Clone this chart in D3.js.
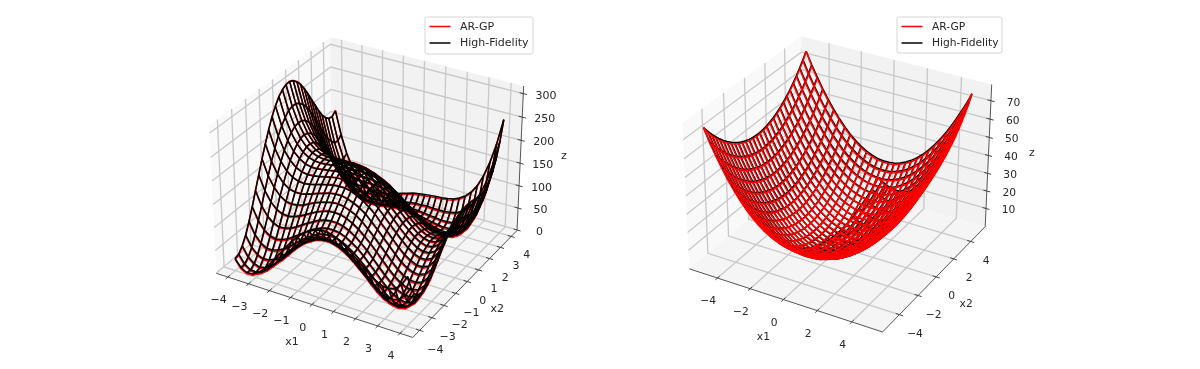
<!DOCTYPE html>
<html>

<head>
  <meta charset="utf-8">
  <title>AR-GP vs High-Fidelity</title>
  <script src="https://d3js.org/d3.v7.min.js"></script>
  <style>
    body { margin: 0; background: #fff; }
    svg { display: block; filter: blur(0.5px); }
    text { font-family: "DejaVu Sans", sans-serif; fill: #262626; }
  </style>
</head>

<body>
  <script>
    // mesh coordinates
    var leftGrid = [-4, -3.7241, -3.4483, -3.1724, -2.8966, -2.6207, -2.3448, -2.069, -1.7931, -1.5172, -1.2414, -0.9655, -0.6897, -0.4138, -0.1379, 0.1379, 0.4138, 0.6897, 0.9655, 1.2414, 1.5172, 1.7931, 2.069, 2.3448, 2.6207, 2.8966, 3.1724, 3.4483, 3.7241, 4];
    var rightGrid = [-5, -4.655, -4.31, -3.966, -3.621, -3.276, -2.931, -2.586, -2.241, -1.897, -1.552, -1.207, -0.862, -0.517, -0.172, 0.172, 0.517, 0.862, 1.207, 1.552, 1.897, 2.241, 2.586, 2.931, 3.276, 3.621, 3.966, 4.31, 4.655, 5];

    // ticks
    var leftXTicks = [-4, -3, -2, -1, 0, 1, 2, 3, 4];
    var leftZTicks = [0, 50, 100, 150, 200, 250, 300];
    var rightXTicks = [-4, -2, 0, 2, 4];
    var rightZTicks = [10, 20, 30, 40, 50, 60, 70];

    var legendLabels = ["AR-GP", "High-Fidelity"];

    // left surface, rows are x1, columns are x2
    var leftHighFidelity = [
      [26,29,41,58,81,107,135,163,191,217,241,263,280,294,303,308,309,305,297,286,272,255,237,219,201,185,173,165,163,170],
      [10,11,20,35,56,80,106,132,158,183,205,225,241,253,262,265,265,260,252,240,225,208,189,170,152,135,123,114,113,120],
      [3,2,9,22,41,63,87,111,136,159,180,198,213,224,231,233,232,226,217,204,189,171,152,132,114,97,84,76,75,81],
      [4,1,5,17,33,54,76,99,122,143,163,180,193,203,209,211,208,202,192,178,162,144,124,105,86,69,56,48,46,53],
      [11,5,8,18,33,51,71,93,114,134,153,168,181,189,194,195,192,184,174,160,143,124,104,85,66,49,36,27,26,33],
      [23,15,16,24,37,53,72,92,112,131,148,162,173,181,185,185,181,173,162,147,130,111,91,71,52,35,22,14,13,21],
      [37,28,27,33,44,59,76,95,114,131,147,160,170,177,180,179,175,166,154,139,122,103,82,62,43,27,14,6,5,13],
      [54,42,39,44,53,67,83,100,117,134,149,161,170,176,178,177,172,163,150,135,117,98,78,57,38,22,9,2,2,10],
      [71,58,53,56,64,76,91,107,123,138,152,163,172,177,179,176,171,161,149,133,115,96,75,55,36,20,8,1,1,10],
      [88,73,67,68,75,85,99,114,129,143,156,166,174,179,180,177,171,161,148,132,114,95,75,55,36,20,8,2,3,13],
      [104,87,80,79,85,94,106,120,134,147,159,169,176,180,181,178,171,161,148,132,114,95,75,55,37,21,10,4,6,16],
      [118,100,91,89,93,101,113,125,138,151,162,171,178,181,181,178,171,161,148,132,114,95,75,56,38,23,12,7,9,21],
      [129,110,99,97,100,107,117,129,141,153,163,172,178,181,181,177,170,160,147,131,113,94,75,56,38,24,14,9,13,25],
      [138,117,106,102,104,110,119,130,142,153,163,171,176,179,178,175,168,157,144,129,111,93,74,55,38,25,15,12,16,29],
      [144,122,109,104,105,110,119,129,140,150,160,167,173,175,174,170,163,153,140,125,108,90,71,53,37,24,16,13,18,33],
      [147,124,110,104,104,108,116,125,135,145,155,162,167,169,168,164,157,147,135,120,103,85,67,50,35,23,15,14,20,35],
      [147,122,107,100,99,103,110,119,129,138,147,154,159,161,160,156,150,140,128,113,97,80,62,46,32,20,14,13,20,37],
      [143,118,102,94,92,95,102,110,120,129,137,144,149,151,150,147,140,131,119,105,89,73,56,41,27,17,11,12,21,39],
      [137,111,94,85,83,86,91,99,108,117,126,132,137,139,139,135,129,120,109,95,81,65,49,34,22,13,8,10,20,40],
      [128,101,84,75,72,74,79,87,95,104,112,119,124,126,126,123,117,109,98,85,71,56,41,28,16,8,5,9,20,41],
      [118,90,72,62,59,60,65,73,81,90,98,105,110,113,113,110,105,97,87,75,62,48,34,21,11,4,3,7,20,43],
      [107,78,60,49,45,47,51,59,67,76,84,91,96,99,100,98,93,86,76,65,53,40,27,16,7,1,1,7,22,46],
      [95,66,47,36,32,33,37,45,53,62,70,78,83,87,88,86,82,76,67,57,45,34,22,12,4,0,2,9,25,52],
      [84,55,35,24,19,20,25,32,40,49,58,66,72,76,77,76,73,68,60,51,40,30,19,11,4,2,5,14,32,60],
      [75,45,25,14,9,10,14,22,30,40,49,57,63,68,70,70,67,63,56,48,39,29,21,13,9,8,12,23,43,73],
      [69,39,19,7,2,3,8,15,24,34,43,52,59,64,67,68,66,63,57,50,42,34,27,21,18,18,25,38,59,91],
      [68,37,17,5,0,1,6,14,23,33,43,52,60,66,70,71,71,68,64,58,52,45,39,35,33,36,44,59,83,117],
      [72,41,21,9,5,6,11,19,28,39,49,59,68,75,79,82,83,81,78,74,69,63,59,57,57,61,71,88,114,150],
      [84,53,33,21,17,18,24,32,42,53,65,75,84,92,98,102,103,103,102,99,95,92,89,88,90,97,109,128,156,194],
      [106,75,55,43,39,41,47,55,66,78,90,101,112,120,127,132,135,136,136,135,133,131,130,131,135,144,158,179,209,250]
    ];

    var leftArGp = [
      [24,26,38,55,79,105,136,164,192,218,242,264,281,295,304,309,310,306,298,287,271,253,234,216,199,183,172,165,164,172],
      [7,8,17,32,53,78,104,133,159,184,206,226,242,254,263,266,266,261,253,241,226,209,190,171,153,136,124,112,111,118],
      [0,-1,6,19,38,61,85,112,137,160,181,199,214,225,232,234,233,227,218,205,190,172,153,133,112,95,82,74,73,79],
      [1,-2,2,14,30,51,74,97,123,144,164,181,194,204,210,212,209,203,193,179,163,145,125,103,84,67,53,45,43,50],
      [8,2,5,15,30,48,69,91,112,135,154,169,182,190,195,196,193,185,175,161,144,125,102,83,64,46,33,24,23,30],
      [20,12,13,21,34,50,70,90,110,132,149,163,174,182,186,186,182,174,163,148,131,109,89,69,49,32,19,11,10,18],
      [34,25,24,30,41,56,74,93,112,132,148,161,171,178,181,180,176,167,155,140,123,101,80,60,40,24,11,3,2,10],
      [51,39,36,41,50,65,81,98,115,135,150,162,171,177,179,178,173,164,151,136,115,96,76,54,35,19,6,-1,-1,7],
      [69,55,50,53,62,74,89,105,124,139,153,164,173,178,180,177,172,162,150,134,113,94,73,52,33,17,5,-2,-2,7],
      [86,71,65,66,73,83,97,112,130,144,157,167,175,180,181,178,172,162,149,133,112,93,73,52,33,17,5,-1,0,10],
      [102,85,78,77,83,92,104,121,135,148,160,170,177,181,182,179,172,162,149,133,112,93,73,52,34,18,7,1,3,13],
      [116,98,89,87,91,99,111,126,139,152,163,172,179,182,182,179,172,162,149,133,112,93,73,53,35,20,9,4,6,18],
      [130,108,97,95,98,105,115,130,142,154,164,173,179,182,182,178,171,161,148,132,111,92,73,53,35,21,11,6,10,22],
      [139,115,104,100,102,108,117,131,143,154,164,172,177,180,179,176,169,158,145,130,109,91,72,52,35,22,12,9,13,26],
      [145,123,107,102,103,108,117,130,141,151,161,168,174,176,175,171,164,154,141,126,106,88,69,50,34,21,13,10,15,30],
      [148,125,108,102,102,106,114,126,136,146,156,163,168,170,169,165,158,148,136,118,101,83,65,47,32,20,12,11,17,32],
      [148,123,105,98,97,101,108,117,130,139,148,155,160,162,161,157,151,141,129,111,95,78,60,43,29,17,11,10,17,34],
      [144,116,100,92,90,93,100,108,118,130,138,145,150,152,151,148,141,132,117,103,87,71,53,38,24,14,8,9,18,36],
      [138,109,92,83,81,84,89,97,106,115,127,133,138,140,140,136,130,118,107,93,79,63,46,31,19,10,5,7,17,37],
      [129,99,82,73,70,72,77,85,93,102,110,117,122,124,124,121,115,107,96,83,69,53,38,25,13,5,2,6,17,38],
      [116,88,70,60,56,58,63,71,79,88,96,103,108,111,111,108,103,95,85,73,60,45,31,18,8,1,0,4,17,40],
      [105,76,58,46,42,44,48,56,65,74,82,89,94,97,98,96,91,84,74,63,50,37,24,13,4,-2,-2,4,19,43],
      [93,64,44,33,29,30,34,42,50,60,68,76,81,85,86,84,80,74,65,54,42,31,19,9,1,-3,-1,6,22,49],
      [82,52,32,21,16,17,22,29,37,46,55,64,70,74,75,74,71,66,58,48,37,27,16,8,1,-1,2,11,29,58],
      [73,42,22,11,6,7,11,19,27,37,46,54,61,66,68,68,65,61,53,45,36,26,18,10,6,5,9,20,40,71],
      [67,36,16,4,-1,0,5,12,21,31,40,49,56,62,65,66,64,61,54,47,39,31,24,18,15,15,22,35,57,89],
      [66,34,14,2,-3,-2,3,11,20,30,40,49,58,64,68,69,69,66,62,55,49,42,36,32,30,33,41,56,81,115],
      [70,38,18,6,2,3,8,16,25,36,46,56,66,73,77,80,81,79,76,72,67,61,56,54,54,59,69,86,112,151],
      [82,50,30,18,14,15,21,29,39,50,63,73,82,90,96,100,101,101,100,97,93,90,87,86,88,95,107,129,157,195],
      [104,73,52,40,36,38,44,52,64,76,88,99,110,121,128,133,136,137,137,136,134,132,131,132,136,145,159,180,210,248]
    ];

    // right surface
    var rightHighFidelity = [
      [75,71.7,68.6,65.7,63.1,60.7,58.6,56.7,55,53.6,52.4,51.5,50.7,50.3,50,50,50.3,50.7,51.5,52.4,53.6,55,56.7,58.6,60.7,63.1,65.7,68.6,71.7,75],
      [68.3,65,61.9,59,56.4,54,51.9,50,48.3,46.9,45.7,44.8,44,43.6,43.3,43.3,43.6,44,44.8,45.7,46.9,48.3,50,51.9,54,56.4,59,61.9,65,68.3],
      [62.2,58.9,55.8,52.9,50.3,47.9,45.8,43.9,42.2,40.8,39.6,38.7,37.9,37.5,37.2,37.2,37.5,37.9,38.7,39.6,40.8,42.2,43.9,45.8,47.9,50.3,52.9,55.8,58.9,62.2],
      [56.5,53.2,50.1,47.2,44.6,42.2,40.1,38.2,36.5,35.1,33.9,33,32.2,31.8,31.5,31.5,31.8,32.2,33,33.9,35.1,36.5,38.2,40.1,42.2,44.6,47.2,50.1,53.2,56.5],
      [51.2,47.9,44.8,41.9,39.3,36.9,34.8,32.9,31.2,29.8,28.6,27.7,26.9,26.5,26.2,26.2,26.5,26.9,27.7,28.6,29.8,31.2,32.9,34.8,36.9,39.3,41.9,44.8,47.9,51.2],
      [46.5,43.2,40.1,37.2,34.6,32.2,30.1,28.2,26.5,25.1,23.9,23,22.2,21.8,21.5,21.5,21.8,22.2,23,23.9,25.1,26.5,28.2,30.1,32.2,34.6,37.2,40.1,43.2,46.5],
      [42.2,38.9,35.8,32.9,30.3,27.9,25.8,23.9,22.2,20.8,19.6,18.7,17.9,17.5,17.2,17.2,17.5,17.9,18.7,19.6,20.8,22.2,23.9,25.8,27.9,30.3,32.9,35.8,38.9,42.2],
      [38.4,35.1,32,29.1,26.5,24.1,22,20.1,18.4,17,15.8,14.9,14.1,13.7,13.4,13.4,13.7,14.1,14.9,15.8,17,18.4,20.1,22,24.1,26.5,29.1,32,35.1,38.4],
      [35,31.7,28.6,25.7,23.1,20.7,18.6,16.7,15,13.6,12.4,11.5,10.7,10.3,10,10,10.3,10.7,11.5,12.4,13.6,15,16.7,18.6,20.7,23.1,25.7,28.6,31.7,35],
      [32.2,28.9,25.8,22.9,20.3,17.9,15.8,13.9,12.2,10.8,9.6,8.7,7.9,7.5,7.2,7.2,7.5,7.9,8.7,9.6,10.8,12.2,13.9,15.8,17.9,20.3,22.9,25.8,28.9,32.2],
      [29.8,26.5,23.4,20.5,17.9,15.5,13.4,11.5,9.8,8.4,7.2,6.3,5.5,5.1,4.8,4.8,5.1,5.5,6.3,7.2,8.4,9.8,11.5,13.4,15.5,17.9,20.5,23.4,26.5,29.8],
      [27.9,24.6,21.5,18.6,16,13.6,11.5,9.6,7.9,6.5,5.3,4.4,3.6,3.2,2.9,2.9,3.2,3.6,4.4,5.3,6.5,7.9,9.6,11.5,13.6,16,18.6,21.5,24.6,27.9],
      [26.5,23.2,20.1,17.2,14.6,12.2,10.1,8.2,6.5,5.1,3.9,3,2.2,1.8,1.5,1.5,1.8,2.2,3,3.9,5.1,6.5,8.2,10.1,12.2,14.6,17.2,20.1,23.2,26.5],
      [25.5,22.2,19.1,16.2,13.6,11.2,9.1,7.2,5.5,4.1,2.9,2,1.2,0.8,0.5,0.5,0.8,1.2,2,2.9,4.1,5.5,7.2,9.1,11.2,13.6,16.2,19.1,22.2,25.5],
      [25.1,21.8,18.7,15.8,13.2,10.8,8.7,6.8,5.1,3.7,2.5,1.6,0.8,0.4,0.1,0.1,0.4,0.8,1.6,2.5,3.7,5.1,6.8,8.7,10.8,13.2,15.8,18.7,21.8,25.1],
      [25.1,21.8,18.7,15.8,13.2,10.8,8.7,6.8,5.1,3.7,2.5,1.6,0.8,0.4,0.1,0.1,0.4,0.8,1.6,2.5,3.7,5.1,6.8,8.7,10.8,13.2,15.8,18.7,21.8,25.1],
      [25.5,22.2,19.1,16.2,13.6,11.2,9.1,7.2,5.5,4.1,2.9,2,1.2,0.8,0.5,0.5,0.8,1.2,2,2.9,4.1,5.5,7.2,9.1,11.2,13.6,16.2,19.1,22.2,25.5],
      [26.5,23.2,20.1,17.2,14.6,12.2,10.1,8.2,6.5,5.1,3.9,3,2.2,1.8,1.5,1.5,1.8,2.2,3,3.9,5.1,6.5,8.2,10.1,12.2,14.6,17.2,20.1,23.2,26.5],
      [27.9,24.6,21.5,18.6,16,13.6,11.5,9.6,7.9,6.5,5.3,4.4,3.6,3.2,2.9,2.9,3.2,3.6,4.4,5.3,6.5,7.9,9.6,11.5,13.6,16,18.6,21.5,24.6,27.9],
      [29.8,26.5,23.4,20.5,17.9,15.5,13.4,11.5,9.8,8.4,7.2,6.3,5.5,5.1,4.8,4.8,5.1,5.5,6.3,7.2,8.4,9.8,11.5,13.4,15.5,17.9,20.5,23.4,26.5,29.8],
      [32.2,28.9,25.8,22.9,20.3,17.9,15.8,13.9,12.2,10.8,9.6,8.7,7.9,7.5,7.2,7.2,7.5,7.9,8.7,9.6,10.8,12.2,13.9,15.8,17.9,20.3,22.9,25.8,28.9,32.2],
      [35,31.7,28.6,25.7,23.1,20.7,18.6,16.7,15,13.6,12.4,11.5,10.7,10.3,10,10,10.3,10.7,11.5,12.4,13.6,15,16.7,18.6,20.7,23.1,25.7,28.6,31.7,35],
      [38.4,35.1,32,29.1,26.5,24.1,22,20.1,18.4,17,15.8,14.9,14.1,13.7,13.4,13.4,13.7,14.1,14.9,15.8,17,18.4,20.1,22,24.1,26.5,29.1,32,35.1,38.4],
      [42.2,38.9,35.8,32.9,30.3,27.9,25.8,23.9,22.2,20.8,19.6,18.7,17.9,17.5,17.2,17.2,17.5,17.9,18.7,19.6,20.8,22.2,23.9,25.8,27.9,30.3,32.9,35.8,38.9,42.2],
      [46.5,43.2,40.1,37.2,34.6,32.2,30.1,28.2,26.5,25.1,23.9,23,22.2,21.8,21.5,21.5,21.8,22.2,23,23.9,25.1,26.5,28.2,30.1,32.2,34.6,37.2,40.1,43.2,46.5],
      [51.2,47.9,44.8,41.9,39.3,36.9,34.8,32.9,31.2,29.8,28.6,27.7,26.9,26.5,26.2,26.2,26.5,26.9,27.7,28.6,29.8,31.2,32.9,34.8,36.9,39.3,41.9,44.8,47.9,51.2],
      [56.5,53.2,50.1,47.2,44.6,42.2,40.1,38.2,36.5,35.1,33.9,33,32.2,31.8,31.5,31.5,31.8,32.2,33,33.9,35.1,36.5,38.2,40.1,42.2,44.6,47.2,50.1,53.2,56.5],
      [62.2,58.9,55.8,52.9,50.3,47.9,45.8,43.9,42.2,40.8,39.6,38.7,37.9,37.5,37.2,37.2,37.5,37.9,38.7,39.6,40.8,42.2,43.9,45.8,47.9,50.3,52.9,55.8,58.9,62.2],
      [68.3,65,61.9,59,56.4,54,51.9,50,48.3,46.9,45.7,44.8,44,43.6,43.3,43.3,43.6,44,44.8,45.7,46.9,48.3,50,51.9,54,56.4,59,61.9,65,68.3],
      [75,71.7,68.6,65.7,63.1,60.7,58.6,56.7,55,53.6,52.4,51.5,50.7,50.3,50,50,50.3,50.7,51.5,52.4,53.6,55,56.7,58.6,60.7,63.1,65.7,68.6,71.7,75]
    ];

    var rightArGp = [
      [75,70.9,67.8,64.9,62.3,59.9,57.8,55.9,54.2,52.8,51.6,50.7,49.9,49.5,49.2,49.2,49.5,49.9,50.7,51.6,52.8,54.2,55.9,57.8,59.9,62.3,64.9,67.8,70.9,75],
      [67.5,64.2,61.1,58.2,55.6,53.2,51.1,49.2,47.5,46.1,44.9,44,43.2,42.8,42.5,42.5,42.8,43.2,44,44.9,46.1,47.5,49.2,51.1,53.2,55.6,58.2,61.1,64.2,67.5],
      [61.4,58.1,55,52.1,49.5,47.1,45,43.1,41.4,40,38.8,37.9,37.1,36.7,36.4,36.4,36.7,37.1,37.9,38.8,40,41.4,43.1,45,47.1,49.5,52.1,55,58.1,61.4],
      [55.7,52.4,49.3,46.4,43.8,41.4,39.3,37.4,35.7,34.3,33.1,32.2,31.4,31,30.7,30.7,31,31.4,32.2,33.1,34.3,35.7,37.4,39.3,41.4,43.8,46.4,49.3,52.4,55.7],
      [50.4,47.1,44,41.1,38.5,36.1,34,32.1,30.4,29,27.8,26.9,26.1,25.7,25.4,25.4,25.7,26.1,26.9,27.8,29,30.4,32.1,34,36.1,38.5,41.1,44,47.1,50.4],
      [45.7,42.4,39.3,36.4,33.8,31.4,29.3,27.4,25.7,24.3,23.1,22.2,21.4,21,20.7,20.7,21,21.4,22.2,23.1,24.3,25.7,27.4,29.3,31.4,33.8,36.4,39.3,42.4,45.7],
      [41.4,38.1,35,32.1,29.5,27.1,25,23.1,21.4,20.1,19,18.1,17.4,17,16.8,16.8,17,17.4,18.1,19,20.1,21.4,23.1,25,27.1,29.5,32.1,35,38.1,41.4],
      [37.6,34.3,31.2,28.3,25.7,23.3,21.2,19.5,18,16.6,15.5,14.6,13.8,13.4,13.1,13.1,13.4,13.8,14.6,15.5,16.6,18,19.5,21.2,23.3,25.7,28.3,31.2,34.3,37.6],
      [34.2,30.9,27.8,24.9,22.3,19.9,18.1,16.2,14.6,13.3,12.1,11.3,10.5,10.1,9.8,9.8,10.1,10.5,11.3,12.1,13.3,14.6,16.2,18.1,19.9,22.3,24.9,27.8,30.9,34.2],
      [31.4,28.1,25,22.1,19.6,17.5,15.4,13.6,12,10.6,9.5,8.7,8,7.6,7.3,7.3,7.6,8,8.7,9.5,10.6,12,13.6,15.4,17.5,19.6,22.1,25,28.1,31.4],
      [29,25.7,22.6,19.9,17.5,15.1,13.1,11.2,9.7,8.4,7.3,6.5,5.7,5.3,5.1,5.1,5.3,5.7,6.5,7.3,8.4,9.7,11.2,13.1,15.1,17.5,19.9,22.6,25.7,29],
      [27.1,23.8,20.8,18.1,15.6,13.3,11.2,9.5,7.9,6.6,5.5,4.7,4,3.6,3.3,3.3,3.6,4,4.7,5.5,6.6,7.9,9.5,11.2,13.3,15.6,18.1,20.8,23.8,27.1],
      [25.7,22.4,19.5,16.8,14.3,11.9,9.9,8.2,6.6,5.3,4.2,3.4,2.7,2.3,2.1,2.1,2.3,2.7,3.4,4.2,5.3,6.6,8.2,9.9,11.9,14.3,16.8,19.5,22.4,25.7],
      [24.7,21.4,18.6,15.9,13.3,10.9,8.9,7.2,5.7,4.4,3.3,2.6,1.8,1.4,1.1,1.1,1.4,1.8,2.6,3.3,4.4,5.7,7.2,8.9,10.9,13.3,15.9,18.6,21.4,24.7],
      [24.3,21,18.2,15.5,12.9,10.6,8.6,6.9,5.3,4,2.9,2.2,1.4,1,0.7,0.7,1,1.4,2.2,2.9,4,5.3,6.9,8.6,10.6,12.9,15.5,18.2,21,24.3],
      [24.3,21,18.2,15.5,12.9,10.6,8.6,6.9,5.3,4,2.9,2.2,1.4,1,0.7,0.7,1,1.4,2.2,2.9,4,5.3,6.9,8.6,10.6,12.9,15.5,18.2,21,24.3],
      [24.7,21.4,18.6,15.9,13.3,10.9,8.9,7.2,5.7,4.4,3.3,2.6,1.8,1.4,1.1,1.1,1.4,1.8,2.6,3.3,4.4,5.7,7.2,8.9,10.9,13.3,15.9,18.6,21.4,24.7],
      [25.7,22.4,19.5,16.8,14.3,11.9,9.9,8.2,6.6,5.3,4.2,3.4,2.7,2.3,2.1,2.1,2.3,2.7,3.4,4.2,5.3,6.6,8.2,9.9,11.9,14.3,16.8,19.5,22.4,25.7],
      [27.1,23.8,20.8,18.1,15.6,13.3,11.2,9.5,7.9,6.6,5.5,4.7,4,3.6,3.3,3.3,3.6,4,4.7,5.5,6.6,7.9,9.5,11.2,13.3,15.6,18.1,20.8,23.8,27.1],
      [29,25.7,22.6,19.9,17.5,15.1,13.1,11.2,9.7,8.4,7.3,6.5,5.7,5.3,5.1,5.1,5.3,5.7,6.5,7.3,8.4,9.7,11.2,13.1,15.1,17.5,19.9,22.6,25.7,29],
      [31.4,28.1,25,22.1,19.6,17.5,15.4,13.6,12,10.6,9.5,8.7,8,7.6,7.3,7.3,7.6,8,8.7,9.5,10.6,12,13.6,15.4,17.5,19.6,22.1,25,28.1,31.4],
      [34.2,30.9,27.8,24.9,22.3,19.9,18.1,16.2,14.6,13.3,12.1,11.3,10.5,10.1,9.8,9.8,10.1,10.5,11.3,12.1,13.3,14.6,16.2,18.1,19.9,22.3,24.9,27.8,30.9,34.2],
      [37.6,34.3,31.2,28.3,25.7,23.3,21.2,19.5,18,16.6,15.5,14.6,13.8,13.4,13.1,13.1,13.4,13.8,14.6,15.5,16.6,18,19.5,21.2,23.3,25.7,28.3,31.2,34.3,37.6],
      [41.4,38.1,35,32.1,29.5,27.1,25,23.1,21.4,20.1,19,18.1,17.4,17,16.8,16.8,17,17.4,18.1,19,20.1,21.4,23.1,25,27.1,29.5,32.1,35,38.1,41.4],
      [45.7,42.4,39.3,36.4,33.8,31.4,29.3,27.4,25.7,24.3,23.1,22.2,21.4,21,20.7,20.7,21,21.4,22.2,23.1,24.3,25.7,27.4,29.3,31.4,33.8,36.4,39.3,42.4,45.7],
      [50.4,47.1,44,41.1,38.5,36.1,34,32.1,30.4,29,27.8,26.9,26.1,25.7,25.4,25.4,25.7,26.1,26.9,27.8,29,30.4,32.1,34,36.1,38.5,41.1,44,47.1,50.4],
      [55.7,52.4,49.3,46.4,43.8,41.4,39.3,37.4,35.7,34.3,33.1,32.2,31.4,31,30.7,30.7,31,31.4,32.2,33.1,34.3,35.7,37.4,39.3,41.4,43.8,46.4,49.3,52.4,55.7],
      [61.4,58.1,55,52.1,49.5,47.1,45,43.1,41.4,40,38.8,37.9,37.1,36.7,36.4,36.4,36.7,37.1,37.9,38.8,40,41.4,43.1,45,47.1,49.5,52.1,55,58.1,61.4],
      [67.5,64.2,61.1,58.2,55.6,53.2,51.1,49.2,47.5,46.1,44.9,44,43.2,42.8,42.5,42.5,42.8,43.2,44,44.9,46.1,47.5,49.2,51.1,53.2,55.6,58.2,61.1,64.2,67.5],
      [75,70.9,67.8,64.9,62.3,59.9,57.8,55.9,54.2,52.8,51.6,50.7,49.9,49.5,49.2,49.2,49.5,49.9,50.7,51.6,52.8,54.2,55.9,57.8,59.9,62.3,64.9,67.8,70.9,75]
    ];

    var width = 1200;
    var height = 369;
    var svg = d3.select("body").append("svg").attr("width", width).attr("height", height);

    // view of the 3d box
    var elev = 30 * Math.PI / 180;
    var azim = -60 * Math.PI / 180;
    var dist = 10;
    var boxXY = 1.19;
    var boxZ = 0.893;

    function drawPanel(p) {
      var xScale = d3.scaleLinear().domain(p.xDomain).range([-boxXY / 2, boxXY / 2]);
      var yScale = d3.scaleLinear().domain(p.xDomain).range([-boxXY / 2, boxXY / 2]);
      var zScale = d3.scaleLinear().domain(p.zDomain).range([-boxZ / 2, boxZ / 2]);

      function project(x, y, z) {
        var X = xScale(x), Y = yScale(y), Z = zScale(z);
        var right = -Math.sin(azim) * X + Math.cos(azim) * Y;
        var up = -Math.sin(elev) * Math.cos(azim) * X - Math.sin(elev) * Math.sin(azim) * Y + Math.cos(elev) * Z;
        var depth = Math.cos(elev) * Math.cos(azim) * X + Math.cos(elev) * Math.sin(azim) * Y + Math.sin(elev) * Z;
        var w = dist - depth;
        return [p.cx + p.size * right / w, p.cy - p.size * up / w];
      }

      var line = d3.line();
      var x0 = p.xDomain[0], x1 = p.xDomain[1], y0 = x0, y1 = x1, z0 = p.zDomain[0], z1 = p.zDomain[1];
      var g = svg.append("g");

      // panes
      var panes = [
        { fill: "#f9f9f9", pts: [[x0, y0, z0], [x0, y1, z0], [x0, y1, z1], [x0, y0, z1]] },
        { fill: "#f2f2f2", pts: [[x0, y1, z0], [x1, y1, z0], [x1, y1, z1], [x0, y1, z1]] },
        { fill: "#f5f5f5", pts: [[x0, y0, z0], [x1, y0, z0], [x1, y1, z0], [x0, y1, z0]] }
      ];
      g.selectAll(".pane").data(panes).enter().append("path")
        .attr("fill", function (d) { return d.fill; })
        .attr("d", function (d) { return line(d.pts.map(function (c) { return project(c[0], c[1], c[2]); })) + "Z"; });

      // grid lines on the panes
      var gridPaths = [];
      p.xTicks.forEach(function (t) {
        gridPaths.push([project(t, y0, z0), project(t, y1, z0), project(t, y1, z1)]);
        gridPaths.push([project(x1, t, z0), project(x0, t, z0), project(x0, t, z1)]);
      });
      p.zTicks.forEach(function (t) {
        gridPaths.push([project(x0, y0, t), project(x0, y1, t), project(x1, y1, t)]);
      });
      g.selectAll(".grid").data(gridPaths).enter().append("path")
        .attr("fill", "none").attr("stroke", "#c8c8c8").attr("stroke-width", 1.3)
        .attr("d", line);

      // box edges
      var edges = [
        [project(x0, y0, z0), project(x1, y0, z0)],
        [project(x1, y0, z0), project(x1, y1, z0)],
        [project(x1, y1, z0), project(x1, y1, z1)]
      ];
      g.selectAll(".edge").data(edges).enter().append("path")
        .attr("fill", "none").attr("stroke", "#555").attr("stroke-width", 1)
        .attr("d", line);

      // ticks and tick labels
      var fmt = d3.format("d");
      var tickLen = (x1 - x0) * 0.018;
      var zTickLen = (x1 - x0) * 0.018;
      p.xTicks.forEach(function (t) {
        var a = project(t, y0 - tickLen, z0);
        g.append("path").attr("stroke", "#444").attr("d", line([project(t, y0 + tickLen, z0), a]));
        g.append("text").attr("x", a[0] + p.xLabelOff[0]).attr("y", a[1] + p.xLabelOff[1])
          .attr("text-anchor", "middle").attr("dominant-baseline", "middle").attr("font-size", p.font).text(fmt(t));
        var b = project(x1 + tickLen, t, z0);
        g.append("path").attr("stroke", "#444").attr("d", line([project(x1 - tickLen, t, z0), b]));
        g.append("text").attr("x", b[0] + p.yLabelOff[0]).attr("y", b[1] + p.yLabelOff[1])
          .attr("text-anchor", "middle").attr("dominant-baseline", "middle").attr("font-size", p.font).text(fmt(t));
      });
      p.zTicks.forEach(function (t) {
        var a = project(x1 + zTickLen, y1, t);
        g.append("path").attr("stroke", "#444").attr("d", line([project(x1 - zTickLen, y1, t), a]));
        g.append("text").attr("x", a[0] + p.zLabelOff[0]).attr("y", a[1] + p.zLabelOff[1])
          .attr("text-anchor", "middle").attr("dominant-baseline", "middle").attr("font-size", p.font).text(fmt(t));
      });

      // axis names
      var mx = project(0, y0, z0), my = project(x1, 0, z0), mz = project(x1, y1, (z0 + z1) / 2);
      [["x1", mx, [-20, 37]], ["x2", my, [30, 27]], ["z", mz, [43.5, -4]]].forEach(function (d) {
        g.append("text").attr("x", d[1][0] + d[2][0]).attr("y", d[1][1] + d[2][1])
          .attr("text-anchor", "middle").attr("dominant-baseline", "middle").attr("font-size", p.font).text(d[0]);
      });

      // wireframes
      function wire(rows, color) {
        var paths = [];
        rows.forEach(function (row, i) {
          paths.push(row.map(function (v, j) { return project(p.grid[i], p.grid[j], v); }));
        });
        p.grid.forEach(function (t, j) {
          paths.push(rows.map(function (row, i) { return project(p.grid[i], p.grid[j], row[j]); }));
        });
        g.append("g").selectAll("path").data(paths).enter().append("path")
          .attr("fill", "none").attr("stroke", color).attr("stroke-width", 1.5)
          .attr("stroke-linejoin", "round").attr("d", line);
      }
      p.order.forEach(function (s) { wire(s[0], s[1]); });

      // legend
      var lg = svg.append("g").attr("transform", "translate(" + p.legend[0] + "," + p.legend[1] + ")");
      lg.append("rect").attr("width", p.legend[2]).attr("height", p.legend[3]).attr("rx", 2)
        .attr("fill", "#fff").attr("fill-opacity", 0.8).attr("stroke", "#d5d5d5");
      legendLabels.forEach(function (label, i) {
        var yy = 9.5 + i * 16.5;
        lg.append("line").attr("x1", 4.5).attr("x2", 25.5).attr("y1", yy).attr("y2", yy)
          .attr("stroke", i == 0 ? "red" : "black").attr("stroke-width", 1.5);
        lg.append("text").attr("x", 35).attr("y", yy).attr("dominant-baseline", "middle")
          .attr("font-size", p.font).text(label);
      });
    }

    drawPanel({
      grid: leftGrid, xDomain: [-4.56, 4.56], zDomain: [-1, 316],
      xTicks: leftXTicks, zTicks: leftZTicks,
      cx: 369.5, cy: 180, size: 1890, font: 11,
      xLabelOff: [-7, 21], yLabelOff: [12, 18], zLabelOff: [19, 1],
      order: [[leftArGp, "red"], [leftHighFidelity, "black"]],
      legend: [425, 17, 108, 37]
    });

    drawPanel({
      grid: rightGrid, xDomain: [-5.75, 5.75], zDomain: [-0.5, 78.7],
      xTicks: rightXTicks, zTicks: rightZTicks,
      cx: 840, cy: 177, size: 1860, font: 10.7,
      xLabelOff: [-7, 21], yLabelOff: [12, 18], zLabelOff: [19, 1],
      order: [[rightHighFidelity, "black"], [rightArGp, "red"]],
      legend: [897, 17, 105, 36]
    });
  </script>
</body>

</html>
